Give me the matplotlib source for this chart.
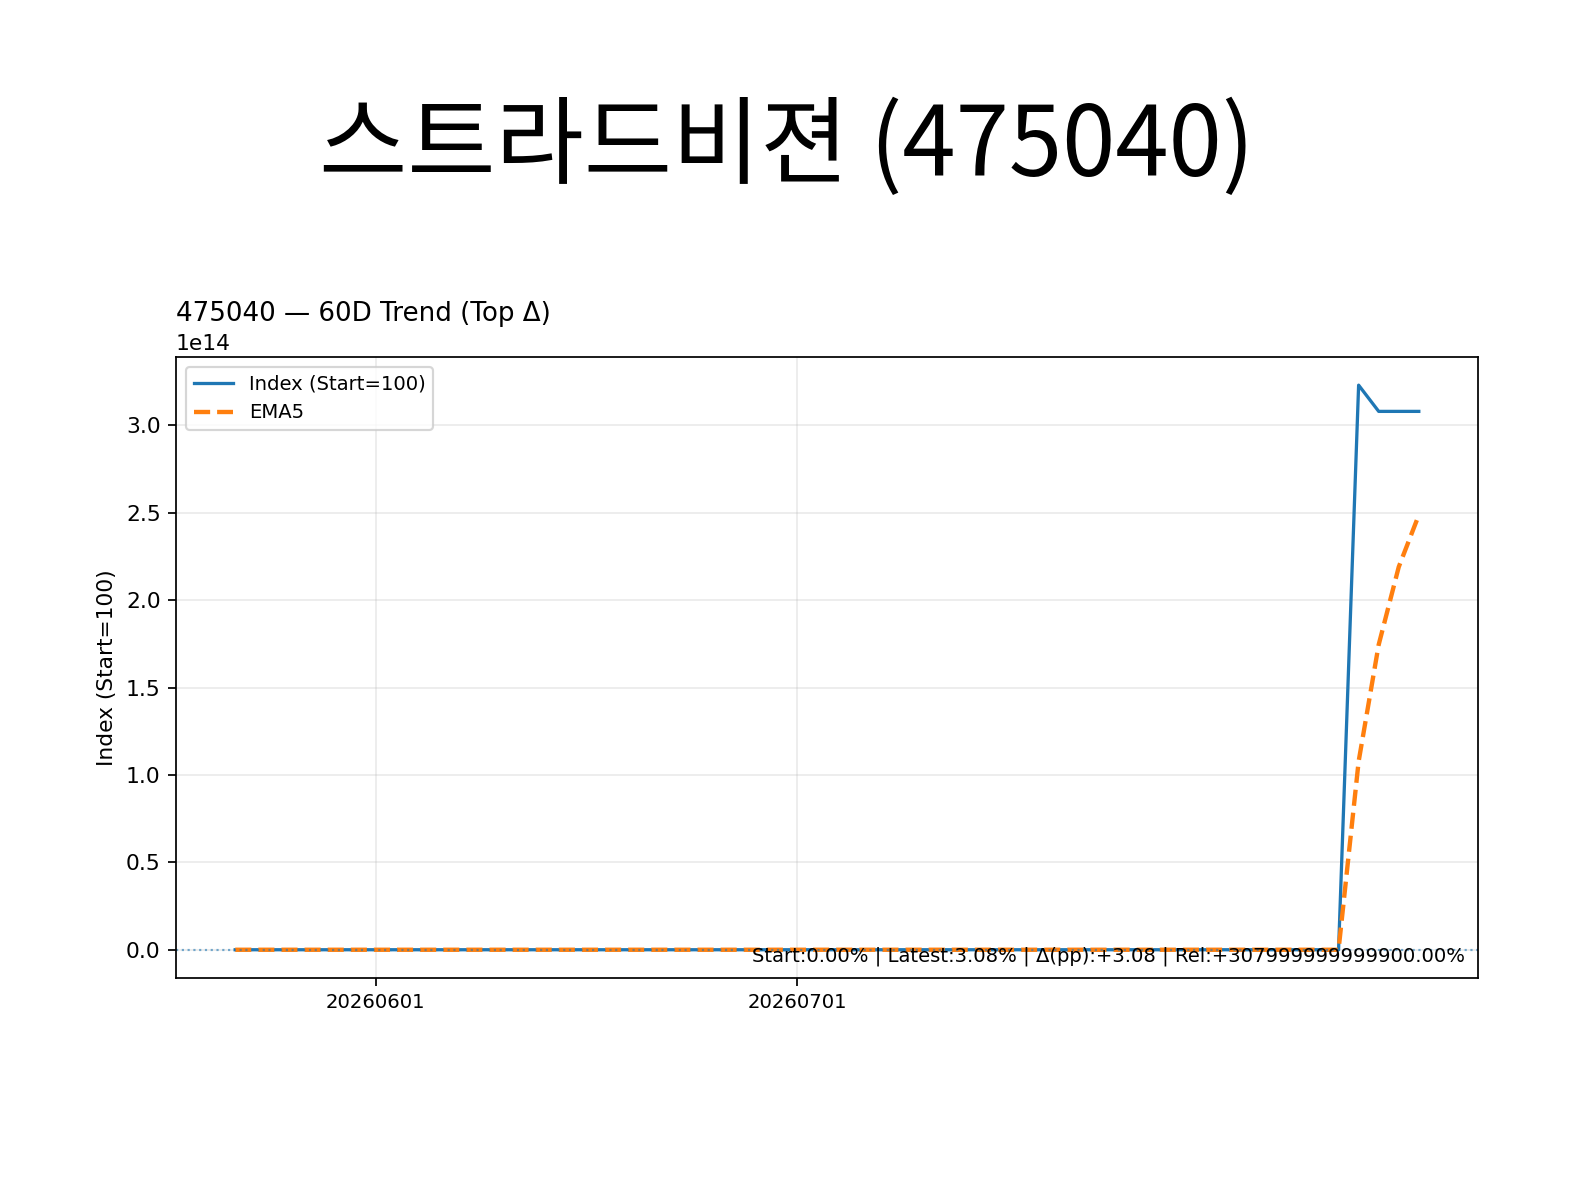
import matplotlib
matplotlib.use('Agg')
import matplotlib.pyplot as plt

plt.rcParams['font.family'] = ['DejaVu Sans']

# trading days shown on the x axis (60 sessions)
dates = ['20260520', '20260521', '20260522', '20260526', '20260527', '20260528', '20260529',
         '20260601', '20260602', '20260604', '20260605', '20260608', '20260609', '20260610',
         '20260611', '20260612', '20260615', '20260616', '20260617', '20260618', '20260619',
         '20260622', '20260623', '20260624', '20260625', '20260626', '20260629', '20260630',
         '20260701', '20260702', '20260703', '20260706', '20260707', '20260708', '20260709',
         '20260710', '20260713', '20260714', '20260715', '20260716', '20260717', '20260720',
         '20260721', '20260722', '20260723', '20260724', '20260727', '20260728', '20260729',
         '20260730', '20260731', '20260803', '20260804', '20260805', '20260806', '20260807',
         '20260810', '20260811', '20260812', '20260813']

index_vals = [100.0] * 56 + [3.23e14, 3.08e14, 3.08e14, 3.08e14]
ema_vals = [100.0] * 56 + [1.077e14, 1.745e14, 2.19e14, 2.487e14]

code = '475040'
name = '스트라드비젼'
summary = 'Start:0.00% | Latest:3.08% | Δ(pp):+3.08 | Rel:+307999999999900.00%'

x = list(range(len(dates)))
tick_pos = [i for i, d in enumerate(dates) if d.endswith('01')]
tick_lab = [dates[i] for i in tick_pos]

fig = plt.figure(figsize=(1573 / 157, 1178 / 157), dpi=157)
fig.text(0.5, 0.874, name + ' (' + code + ')', ha='center', va='center', fontsize=44,
         family=['Noto Sans CJK KR', 'DejaVu Sans'])

ax = fig.add_axes([0.1119, 0.1698, 0.8277, 0.5272])
ax.plot(x, index_vals, label='Index (Start=100)', linewidth=1.5)
ax.plot(x, ema_vals, '--', label='EMA5', linewidth=2)
ax.axhline(100, linestyle=':', linewidth=1, alpha=0.6)
ax.grid(True, alpha=0.25)
ax.set_title(code + ' — 60D Trend (Top Δ)', loc='left')
ax.set_ylabel('Index (Start=100)')
ax.set_xticks(tick_pos)
ax.set_xticklabels(tick_lab, fontsize=9)
ax.legend(loc='upper left', fontsize=9)
ax.text(0.99, 0.02, summary, transform=ax.transAxes, ha='right', va='bottom', fontsize=9)

fig.savefig('out.png', dpi=157)
